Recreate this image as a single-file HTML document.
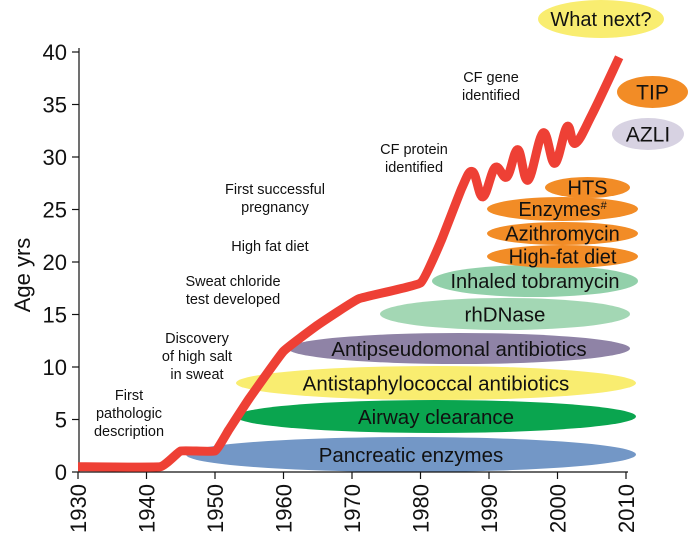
<!DOCTYPE html>
<html><head><meta charset="utf-8"><style>
body{margin:0;background:#fff}
svg{display:block;font-family:"Liberation Sans",sans-serif}
</style></head><body>
<svg id="c" width="690" height="544" viewBox="0 0 690 544"></svg>
<script>
const years=[1930,1942,1945,1950,1952,1955,1960,1965,1971,1980,1983,1986,1987.6,1989.1,1990.9,1992.6,1994.2,1995.7,1997.9,1999.6,2001.4,2002.6,2005,2009];
const ages=[0.5,0.5,2,2,4,7,11.5,14,16.5,18,22,27,28.6,26.2,29,28.1,30.7,27.8,32.3,29.4,32.9,31.3,34,39.5];
const xTicks=[1930,1940,1950,1960,1970,1980,1990,2000,2010];
const yTicks=[0,5,10,15,20,25,30,35,40];
const X=y=>78+(y-1930)*548/80;
const Y=a=>472-a*10.5;
const NS="http://www.w3.org/2000/svg";
const svg=document.getElementById('c');
function mk(t,a,p){const e=document.createElementNS(NS,t);for(const k in a)e.setAttribute(k,a[k]);(p||svg).appendChild(e);return e;}
const pills=[
["pancreatic-enzymes","Pancreatic enzymes",186,636,437,472,"#7397c6",20.5],
["airway-clearance","Airway clearance",236,636,400,433,"#0aa54f",20.5],
["antistaphylococcal-antibiotics","Antistaphylococcal antibiotics",236,636,366,400,"#f9ed70",20.5],
["antipseudomonal-antibiotics","Antipseudomonal antibiotics",288,630,333,364,"#8f83a6",20.5],
["rhdnase","rhDNase",380,630,298,330,"#a3d7b4",20.5],
["inhaled-tobramycin","Inhaled tobramycin",432,638,265,297,"#92d0aa",20],
["high-fat-diet","High-fat diet",487,638,245,268,"#f28c26",20],
["azithromycin","Azithromycin",487,638,222,245,"#f28c26",20],
["enzymes","Enzymes",487,638,197,221,"#f28c26",20],
["hts","HTS",545,630,177,198,"#f28c26",20],
["azli","AZLI",612,684,118,150,"#d7d2e2",21],
["tip","TIP",617,688,76,108,"#f28c26",21],
["what-next","What next?",538,664,0,38,"#f9ed70",20]];
for(const p of pills){
 const g=mk('g',{});
 
 mk('ellipse',{cx:(p[2]+p[3])/2,cy:(p[4]+p[5])/2,rx:(p[3]-p[2])/2,ry:(p[5]-p[4])/2,fill:p[6]},g);
 const t=mk('text',{x:(p[2]+p[3])/2,y:(p[4]+p[5])/2+p[7]*0.36,'font-size':p[7],'text-anchor':'middle',fill:'#111'},g);
 t.textContent=p[1];
 if(p[0]==='enzymes'){const s=mk('tspan',{'font-size':11,dy:-7},t);s.textContent='#';}
}
const ax=mk('g',{});
mk('line',{x1:79,y1:48,x2:79,y2:472,stroke:'#111','stroke-width':1.2},ax);
mk('line',{x1:79,y1:472,x2:628,y2:472,stroke:'#111','stroke-width':1.2},ax);
for(const v of yTicks){
 mk('line',{x1:72,y1:Y(v),x2:79,y2:Y(v),stroke:'#111','stroke-width':1.2},ax);
 const t=mk('text',{x:67,y:Y(v)+8,'font-size':22,'text-anchor':'end',fill:'#111'},ax);
 
 t.textContent=v;
}
for(const v of xTicks){
 mk('line',{x1:X(v),y1:472,x2:X(v),y2:479,stroke:'#111','stroke-width':1.2},ax);
 const t=mk('text',{x:0,y:0,'font-size':22,'text-anchor':'end',fill:'#111',transform:`translate(${X(v)+8},484) rotate(-90)`},ax);
 
 t.textContent=v;
}
const yt=mk('text',{x:0,y:0,'font-size':22,'text-anchor':'middle',fill:'#111',transform:'translate(30,275) rotate(-90)'});

yt.textContent='Age yrs';
const notes=[
["first-pathologic-description",["First","pathologic","description"],129,400],
["discovery-high-salt",["Discovery","of high salt","in sweat"],197,343],
["sweat-chloride-test",["Sweat chloride","test developed"],233,286],
["high-fat-diet-note",["High fat diet"],270,251],
["first-pregnancy",["First successful","pregnancy"],275,194],
["cf-protein",["CF protein","identified"],414,154],
["cf-gene",["CF gene","identified"],491,82]];
for(const n of notes){
 const t=mk('text',{x:n[2],y:n[3],'font-size':14.5,'text-anchor':'middle',fill:'#111'});
 
 n[1].forEach((l,i)=>{const s=mk('tspan',{x:n[2],dy:i?18:0},t);s.textContent=l;});
}
const pts=years.map((y,i)=>[X(y),Y(ages[i])]);
let d='M'+pts[0].join(',');
for(let i=1;i<pts.length;i++){
 const p0=pts[Math.max(0,i-2)],p1=pts[i-1],p2=pts[i],p3=pts[Math.min(pts.length-1,i+1)];
 const k=i>=12?0.18:0.05;
 const c1=[p1[0]+(p2[0]-p0[0])*k,p1[1]+(p2[1]-p0[1])*k];
 const c2=[p2[0]-(p3[0]-p1[0])*k,p2[1]-(p3[1]-p1[1])*k];
 d+=` C${c1.join(',')} ${c2.join(',')} ${p2.join(',')}`;
}
const line=mk('path',{d:d,fill:'none',stroke:'#ee4035','stroke-width':9,'stroke-linejoin':'round'});


</script>
</body></html>
